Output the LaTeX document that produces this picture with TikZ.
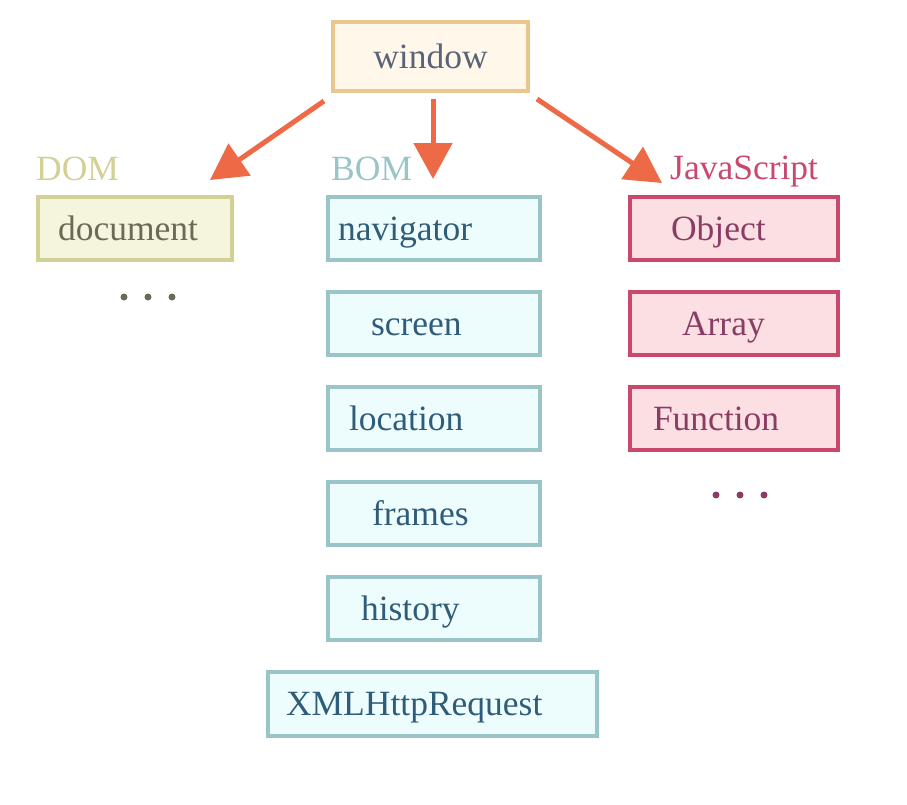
\documentclass[tikz,border=0pt]{standalone}
\usepackage{fontspec}
\setmainfont{Liberation Serif}
\usetikzlibrary{arrows.meta,positioning}

\definecolor{winline}{HTML}{EAC68F}
\definecolor{winfill}{HTML}{FFF8EA}
\definecolor{wintext}{HTML}{5A6478}
\definecolor{domline}{HTML}{D3D096}
\definecolor{domfill}{HTML}{F5F4DC}
\definecolor{domtext}{HTML}{6B6A55}
\definecolor{bomline}{HTML}{9AC5C8}
\definecolor{bomfill}{HTML}{EDFCFD}
\definecolor{bomtext}{HTML}{2F5C78}
\definecolor{jsline}{HTML}{C9486C}
\definecolor{jsfill}{HTML}{FBDFE2}
\definecolor{jstext}{HTML}{8A3D64}
\definecolor{arrowc}{HTML}{EE6A47}

\tikzset{
  box/.style={draw,line width=4pt,inner sep=0pt,minimum height=63pt,align=left,
    text height=26pt,text depth=3pt,font=\fontsize{35.5}{42}\selectfont},
  winbox/.style={box,draw=winline,fill=winfill,text=wintext,minimum width=195pt,minimum height=69pt},
  dombox/.style={box,draw=domline,fill=domfill,text=domtext,minimum width=194pt},
  bombox/.style={box,draw=bomline,fill=bomfill,text=bomtext,minimum width=212pt},
  jsbox/.style={box,draw=jsline,fill=jsfill,text=jstext,minimum width=208pt},
  grouplabel/.style={anchor=base west,inner sep=0pt,font=\fontsize{35.5}{42}\selectfont},
  arr/.style={arrowc,line width=5pt,-{Triangle[length=36pt,width=38pt]}}
}

\begin{document}
\begin{tikzpicture}[x=1pt,y=-1pt]
\useasboundingbox (0,0) rectangle (907,804);

\node[winbox] (window) at (430.5,56.5) {window};

% group labels
\node[grouplabel,text=domline] (domlabel) at (36,180) {DOM};
\node[grouplabel,text=bomline] (bomlabel) at (331,180) {BOM};
\node[grouplabel,text=jsline] (jslabel) at (670,179) {JavaScript};

% DOM
\node[dombox,text width=154pt] (document) at (135,228.5) {document};
\foreach\x in {124,148,172}
\fill[domtext] (\x,297) circle (3.5pt);

% BOM
\foreach\nm/\txt/\y/\tw in {navigator/navigator/228.5/192,screen/screen/323.5/126,location/location/418.5/170,frames/frames/513.5/124,history/history/608.5/146}
\node[bombox,text width=\tw pt] (\nm) at (434,\y) {\txt};
\node[bombox,text width=293pt,minimum width=329pt,minimum height=64pt] (xhr) at (432.5,704) {XMLHttpRequest};

% JavaScript
\foreach\nm/\txt/\y/\tw in {object/Object/228.5/126,array/Array/323.5/104,function/Function/418.5/162}
\node[jsbox,text width=\tw pt] (\nm) at (734,\y) {\txt};
\foreach\x in {716,740,764}
\fill[jstext] (\x,495) circle (3.5pt);

% arrows
\coordinate (domtip) at (210,180);
\coordinate (bomtip) at (433,179);
\coordinate (jstip) at (662,183);
\draw[arr] ([shift={(-7,8)}]window.south west) -- (domtip);
\draw[arr] ([shift={(2.5,6)}]window.south) -- (bomtip);
\draw[arr] ([shift={(7,6)}]window.south east) -- (jstip);
\end{tikzpicture}
\end{document}
